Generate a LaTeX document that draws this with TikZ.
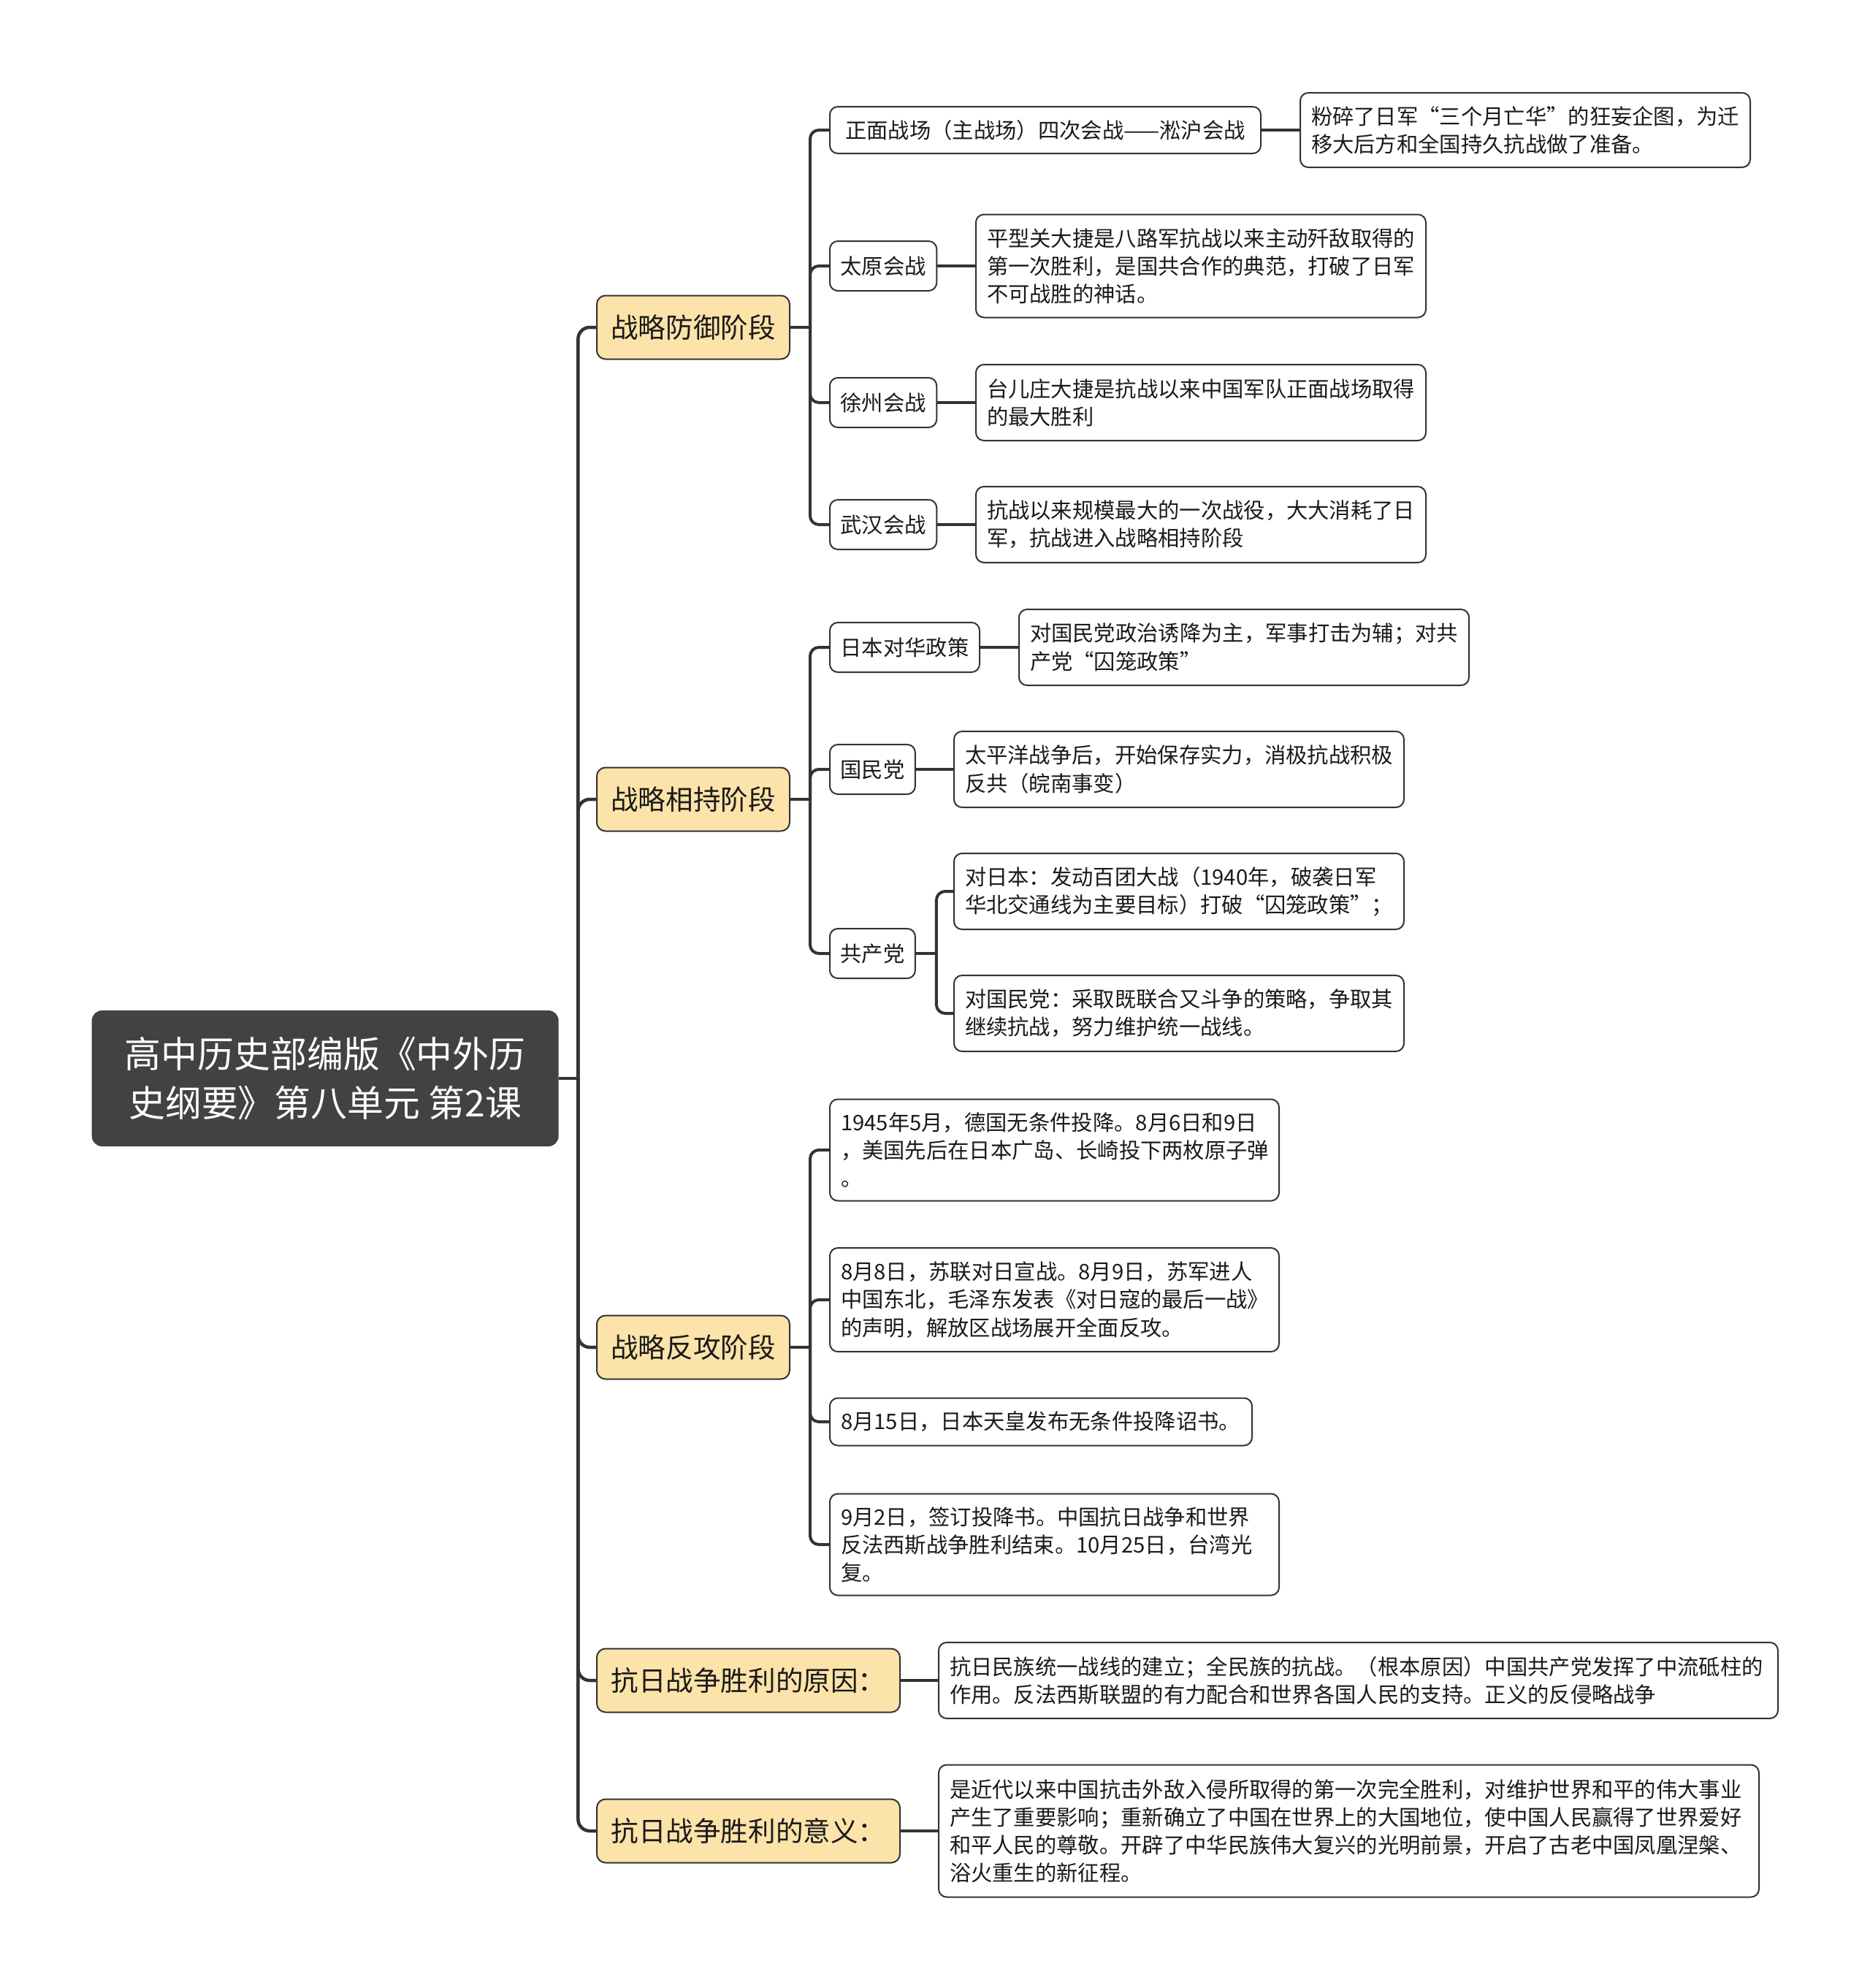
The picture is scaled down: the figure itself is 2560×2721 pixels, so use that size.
\documentclass[tikz,border=0pt]{standalone}
\usepackage{fontspec}
\setmainfont{Noto Sans CJK SC}
\definecolor{rootgray}{HTML}{424242}
\definecolor{stageyellow}{HTML}{FCE3A9}
\definecolor{linedark}{HTML}{333333}
\definecolor{textdark}{HTML}{1A1A1A}
\tikzset{
  rootbox/.style={fill=rootgray, rounded corners=1.4mm, text=white, align=center,
    font=\fontsize{14.2pt}{18.8pt}\selectfont, minimum width=63.9mm,
    minimum height=18.6mm, anchor=west},
  stage/.style={draw=linedark, fill=stageyellow, line width=0.2mm, rounded corners=1.2mm,
    font=\fontsize{10.7pt}{13pt}\selectfont, text=textdark, inner xsep=1.9mm,
    minimum height=8.7mm, anchor=west},
  topic/.style={draw=linedark, fill=white, line width=0.2mm, rounded corners=1.1mm,
    font=\fontsize{8.34pt}{10.87pt}\selectfont, text=textdark, inner xsep=1.45mm,
    minimum height=6.8mm, anchor=west},
  leaf/.style={topic, align=left, inner xsep=1.5mm},
  trunk/.style={draw=linedark, line width=0.45mm, rounded corners=1.6mm},
  link/.style={draw=linedark, line width=0.4mm, rounded corners=1.2mm},
}

\begin{document}
\begin{tikzpicture}[x=0.1mm,y=-0.1mm]
  \fill[white] (0,0) rectangle (2560,2721);
  % root and stages
  \node[rootbox] (root) at (125,1476) {高中历史部编版《中外历\\史纲要》第八单元 第2课};
  \node[stage, minimum width=26.4mm] (def) at (816,448) {战略防御阶段};
  \node[stage, minimum width=26.4mm] (hold) at (816,1094) {战略相持阶段};
  \node[stage, minimum width=26.4mm] (cnt) at (816,1844) {战略反攻阶段};
  \node[stage, minimum width=41.5mm] (why) at (816,2300) {抗日战争胜利的原因：};
  \node[stage, minimum width=41.5mm] (mean) at (816,2506) {抗日战争胜利的意义：};
  % defense
  \node[topic, minimum width=59mm, minimum height=6.4mm] (zm) at (1135,178) {正面战场（主战场）四次会战——淞沪会战};
  \node[leaf, text width=58.6mm, minimum height=10.2mm] (zm-l) at (1779,178)
    {粉碎了日军“三个月亡华”的狂妄企图，为迁\\移大后方和全国持久抗战做了准备。};
  \node[topic, minimum width=14.6mm] (ty) at (1135,364) {太原会战};
  \node[leaf, text width=58.6mm, minimum height=14.1mm] (ty-l) at (1335,364)
    {平型关大捷是八路军抗战以来主动歼敌取得的\\第一次胜利，是国共合作的典范，打破了日军\\不可战胜的神话。};
  \node[topic, minimum width=14.6mm] (xz) at (1135,551) {徐州会战};
  \node[leaf, text width=58.6mm, minimum height=10.4mm] (xz-l) at (1335,551)
    {台儿庄大捷是抗战以来中国军队正面战场取得\\的最大胜利};
  \node[topic, minimum width=14.6mm] (wh) at (1135,718) {武汉会战};
  \node[leaf, text width=58.6mm, minimum height=10.4mm] (wh-l) at (1335,718)
    {抗战以来规模最大的一次战役，大大消耗了日\\军，抗战进入战略相持阶段};
  % stalemate
  \node[topic, minimum width=20.5mm] (jp) at (1135,886) {日本对华政策};
  \node[leaf, text width=58.6mm, minimum height=10.4mm] (jp-l) at (1394,886)
    {对国民党政治诱降为主，军事打击为辅；对共\\产党“囚笼政策”};
  \node[topic, minimum width=11.6mm] (gmd) at (1135,1053) {国民党};
  \node[leaf, text width=58.6mm, minimum height=10.4mm] (gmd-l) at (1305,1053)
    {太平洋战争后，开始保存实力，消极抗战积极\\反共（皖南事变）};
  \node[topic, minimum width=11.6mm] (gcd) at (1135,1305) {共产党};
  \node[leaf, text width=58.6mm, minimum height=10.4mm] (gcd-a) at (1305,1220)
    {对日本：发动百团大战（1940年，破袭日军\\华北交通线为主要目标）打破“囚笼政策”；};
  \node[leaf, text width=58.6mm, minimum height=10.4mm] (gcd-b) at (1305,1387)
    {对国民党：采取既联合又斗争的策略，争取其\\继续抗战，努力维护统一战线。};
  % counter-offensive
  \node[leaf, text width=58.5mm, minimum height=13.9mm] (ev1) at (1135,1574)
    {1945年5月，德国无条件投降。8月6日和9日\\，美国先后在日本广岛、长崎投下两枚原子弹\\。};
  \node[leaf, text width=58.5mm, minimum height=14.2mm] (ev2) at (1135,1779)
    {8月8日，苏联对日宣战。8月9日，苏军进人\\中国东北，毛泽东发表《对日寇的最后一战》\\的声明，解放区战场展开全面反攻。};
  \node[leaf, text width=54.8mm, minimum height=6.5mm] (ev3) at (1135,1946)
    {8月15日，日本天皇发布无条件投降诏书。};
  \node[leaf, text width=58.5mm, minimum height=13.9mm] (ev4) at (1135,2114)
    {9月2日，签订投降书。中国抗日战争和世界\\反法西斯战争胜利结束。10月25日，台湾光\\复。};
  % reasons and meaning
  \node[leaf, text width=111.9mm, minimum height=10.4mm] (why-l) at (1284,2300)
    {抗日民族统一战线的建立；全民族的抗战。（根本原因）中国共产党发挥了中流砥柱的\\作用。反法西斯联盟的有力配合和世界各国人民的支持。正义的反侵略战争};
  \node[leaf, text width=109.3mm, minimum height=18.1mm] (mean-l) at (1284,2506)
    {是近代以来中国抗击外敌入侵所取得的第一次完全胜利，对维护世界和平的伟大事业\\产生了重要影响；重新确立了中国在世界上的大国地位，使中国人民赢得了世界爱好\\和平人民的尊敬。开辟了中华民族伟大复兴的光明前景，开启了古老中国凤凰涅槃、\\浴火重生的新征程。};
  % trunk
  \coordinate (tj) at ([xshift=2.6mm]root.east);
  \draw[trunk] (root.east) -- (tj);
  \foreach \s in {def,hold,cnt,why,mean} {\draw[trunk] (tj) |- (\s.west);}
  % defense links
  \coordinate (defj) at ([xshift=2.7mm]def.east);
  \draw[link] (def.east) -- (defj);
  \foreach \t in {zm,ty,xz,wh} {
    \draw[link] (defj) |- (\t.west);
    \draw[link] (\t.east) -- (\t-l.west);
  }
  % stalemate links
  \coordinate (holdj) at ([xshift=2.7mm]hold.east);
  \draw[link] (hold.east) -- (holdj);
  \foreach \t in {jp,gmd,gcd} {\draw[link] (holdj) |- (\t.west);}
  \draw[link] (jp.east) -- (jp-l.west);
  \draw[link] (gmd.east) -- (gmd-l.west);
  \coordinate (gcdj) at ([xshift=2.8mm]gcd.east);
  \draw[link] (gcd.east) -- (gcdj);
  \foreach \t in {gcd-a,gcd-b} {\draw[link] (gcdj) |- (\t.west);}
  % counter-offensive links
  \coordinate (cntj) at ([xshift=2.7mm]cnt.east);
  \draw[link] (cnt.east) -- (cntj);
  \foreach \i in {1,...,4} {\draw[link] (cntj) |- (ev\i.west);}
  % reasons and meaning links
  \draw[link] (why.east) -- (why-l.west);
  \draw[link] (mean.east) -- (mean-l.west);
\end{tikzpicture}
\end{document}
